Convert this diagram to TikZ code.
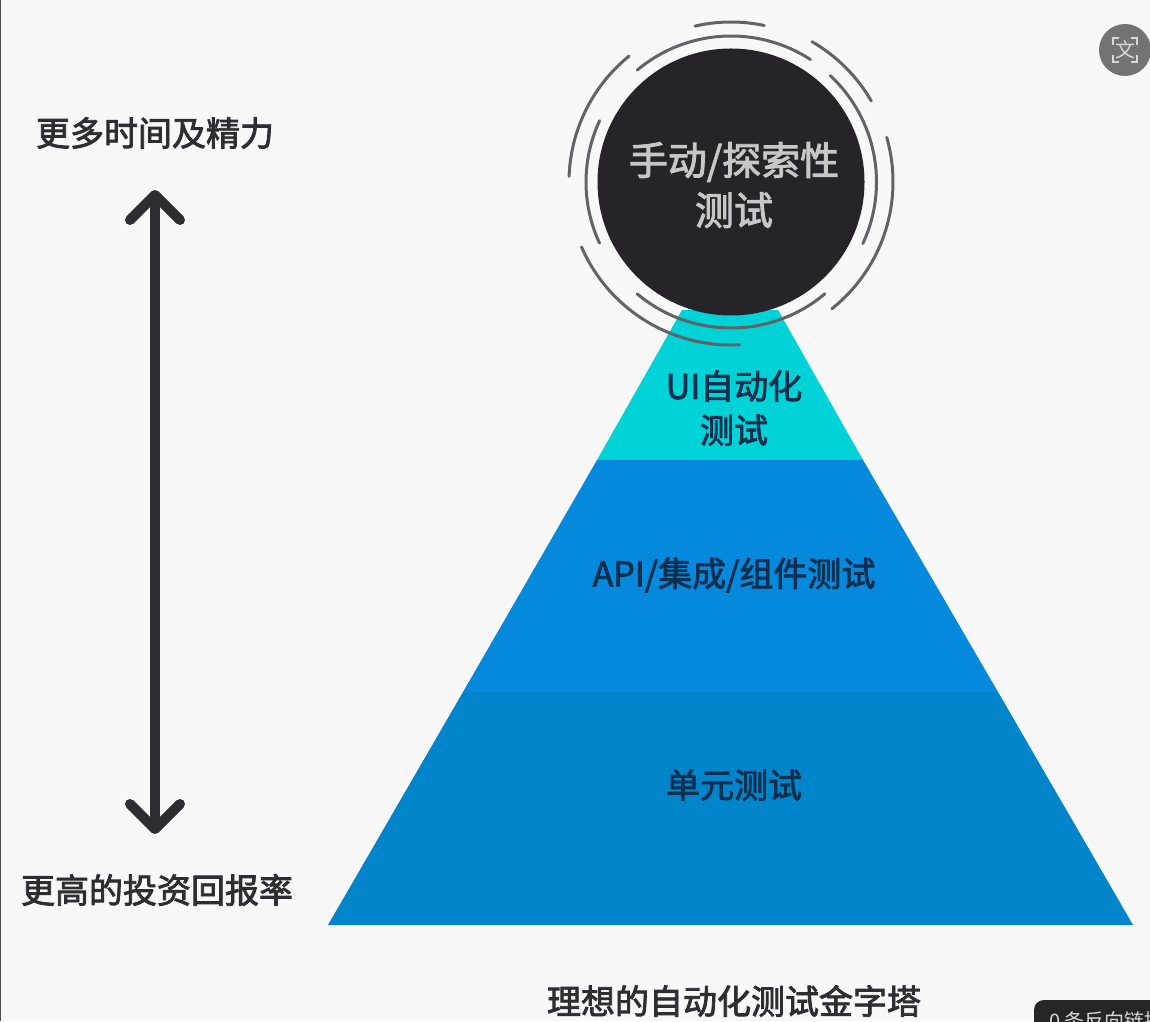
\documentclass[tikz,border=0pt]{standalone}
\usepackage{fontspec}
\newfontfamily\cjk{Noto Sans CJK SC}
\newfontfamily\cjkmed[FakeBold=2.4]{Noto Sans CJK SC}
\usetikzlibrary{arrows.meta}
\definecolor{pagebg}{HTML}{F8F8F8}
\definecolor{inkdark}{HTML}{2E2E32}
\definecolor{ballc}{HTML}{262428}
\definecolor{teal}{HTML}{00D3D8}
\definecolor{bluea}{HTML}{0589DC}
\definecolor{blueb}{HTML}{0084CA}
\definecolor{navy}{HTML}{0B2F4E}
\definecolor{ringc}{HTML}{636367}
\tikzset{
  px/.style={x=1pt,y=1pt},
  lab/.style={font=\cjkmed\fontsize{34}{44}\selectfont,text=inkdark,inner sep=0pt,align=center},
  onblue/.style={lab,text=navy},
  balltext/.style={font=\cjkmed\fontsize{39}{50}\selectfont,text=white!78!black,inner sep=0pt,align=center},
  ring/.style={draw=ringc,line width=3pt,line cap=round},
  bigarrow/.style={draw=inkdark,line width=10pt,line cap=round,line join=round,
    {Straight Barb[length=25pt,width=50pt,line width=10pt,round]}-{Straight Barb[length=25pt,width=50pt,line width=10pt,round]}},
}
\begin{document}
\begin{tikzpicture}[px]
\useasboundingbox (0,0) rectangle (1150,1021);
\clip (0,0) rectangle (1150,1021);
\fill[pagebg] (0,0) rectangle (1150,1021);
\fill[black!70] (0,0) rectangle (1.2,1021);
% pyramid
\fill[blueb] (328,96) -- (1133,96) -- (998,329) -- (463,329) -- cycle;
\fill[bluea] (463,329) -- (998,329) -- (863,561) -- (597,561) -- cycle;
\fill[teal] (597,561) -- (863,561) -- (778,711) -- (682,711) -- cycle;
% ball
\node[circle,fill=ballc,minimum size=267pt,inner sep=0pt] (ball) at (731,839) {};
\begin{scope}[shift={(ball.center)}]
  \draw[ring] (103:160) arc[start angle=103,end angle=78,radius=160];
  \draw[ring] (60:162) arc[start angle=60,end angle=30,radius=162];
  \draw[ring] (16:162) arc[start angle=16,end angle=-51.5,radius=162];
  \draw[ring] (203.5:163) arc[start angle=203.5,end angle=273,radius=163];
  \draw[ring] (178:162) arc[start angle=178,end angle=129,radius=162];
  \draw[ring] (130:146) arc[start angle=130,end angle=57,radius=146];
  \draw[ring] (47:145.5) arc[start angle=47,end angle=-25,radius=145.5];
  \draw[ring] (-50:146) arc[start angle=-50,end angle=-130,radius=146];
  \draw[ring] (155:145) arc[start angle=155,end angle=205,radius=145];
\end{scope}
\node[balltext] (balllabel) at (734,836) {手动/探索性\\测试};
\node[onblue] (ui) at (734,613) {UI自动化\\测试};
\node[onblue] (api) at (734,446) {API/集成/组件测试};
\node[onblue] (unit) at (734,236) {单元测试};
\node[lab] (more) at (155,888) {更多时间及精力};
\node[lab] (roi) at (157,131) {更高的投资回报率};
\node[lab] (title) at (734,20) {理想的自动化测试金字塔};
\coordinate (top) at (155,831);
\coordinate (bot) at (155,187);
\draw[bigarrow] (top) -- (bot);
% screenshot overlays
\node[circle,fill=black!55,minimum size=52pt,inner sep=0pt] (btn) at (1125,971) {};
\node[font=\cjk\fontsize{20}{20}\selectfont,text=white!85!black,inner sep=0pt] (btnicon) at (btn.center) {文};
\draw[white!85!black,line width=1.6pt]
  (1113,976) |- (1113,983) -- (1119,983) (1131,983) -- (1137,983) -- (1137,976)
  (1113,966) -- (1113,959) -- (1119,959) (1131,959) -- (1137,959) -- (1137,966);
\fill[black!85,rounded corners=10pt] (1034,-30) rectangle (1190,21);
\node[anchor=west,font=\cjk\fontsize{20}{20}\selectfont,text=white!85!black,inner sep=0pt] (backlinks) at (1049,0) {0 条反向链接};
\end{tikzpicture}
\end{document}
